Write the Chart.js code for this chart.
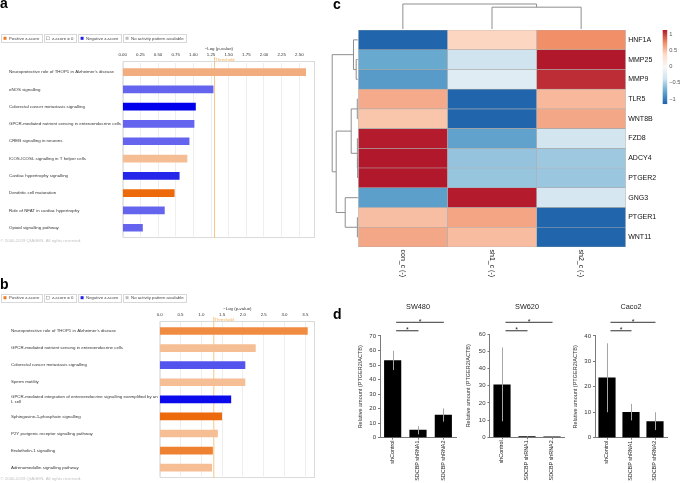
<!DOCTYPE html>
<html>
<head>
<meta charset="utf-8">
<script src="https://cdn.jsdelivr.net/npm/chart.js@4.4.1/dist/chart.umd.min.js"></script>
<style>
html,body{margin:0;padding:0;background:#fff;}
#wrap{position:relative;width:680px;height:483px;overflow:hidden;background:#fff;font-family:"Liberation Sans",Arial,sans-serif;}
canvas{position:absolute;}
.plab{position:absolute;font:bold 14px/14px "Liberation Sans",Arial,sans-serif;color:#000;}
</style>
</head>
<body>
<div id="wrap">
  <canvas id="cA" width="340" height="248" style="left:0;top:0;"></canvas>
  <canvas id="cB" width="340" height="233" style="left:0;top:250px;"></canvas>
  <canvas id="cC" width="350" height="290" style="left:330px;top:0;"></canvas>
  <canvas id="cD1" width="125" height="193" style="left:340px;top:290px;"></canvas>
  <canvas id="cD2" width="112" height="193" style="left:458px;top:290px;"></canvas>
  <canvas id="cD3" width="110" height="193" style="left:570px;top:290px;"></canvas>
  <div class="plab" style="left:0;top:-4.3px;">a</div>
  <div class="plab" style="left:0;top:276.5px;">b</div>
  <div class="plab" style="left:333px;top:-3.5px;">c</div>
  <div class="plab" style="left:333px;top:306.5px;">d</div>
</div>
<script>
// ================= DATA =================
// Panel a – IPA canonical pathways
const pathwaysA = [
  "Neuroprotective role of THOP1 in Alzheimer's disease",
  "eNOS signalling",
  "Colorectal cancer metastasis signalling",
  "GPCR-mediated nutrient sensing in enteroendocrine cells",
  "CREB signalling in neurons",
  "ICOS-ICOSL signalling in T helper cells",
  "Cardiac hypertrophy signalling",
  "Dendritic cell maturation",
  "Role of NFAT in cardiac hypertrophy",
  "Opioid signalling pathway"
];
const logPA = [2.59, 1.28, 1.03, 1.01, 0.94, 0.91, 0.80, 0.73, 0.59, 0.28];
const ticksA = [0, 0.25, 0.5, 0.75, 1, 1.25, 1.5, 1.75, 2, 2.25, 2.5];

// Panel b – IPA canonical pathways
const pathwaysB = [
  "Neuroprotective role of THOP1 in Alzheimer's disease",
  "GPCR-mediated nutrient sensing in enteroendocrine cells",
  "Colorectal cancer metastasis signalling",
  "Sperm motility",
  ["GPCR-mediated integration of enteroendocrine signalling exemplified by an", "L cell"],
  "Sphingosine-1-phosphate signalling",
  "P2Y purigenic receptor signalling pathway",
  "Endothelin-1 signalling",
  "Adrenomedullin signalling pathway"
];
const logPB = [3.55, 2.30, 2.05, 2.05, 1.71, 1.49, 1.39, 1.27, 1.25];
const ticksB = [0, 0.5, 1, 1.5, 2, 2.5, 3, 3.5];
const thresholdLogP = 1.3;

// Panel c – heatmap (row-scaled z-scores)
const genes = ["HNF1A","MMP25","MMP9","TLR5","WNT8B","FZD8","ADCY4","PTGER2","GNG3","PTGER1","WNT11"];
const conditions = ["con_c (-)", "sh1_c (-)", "sh2_c (-)"];
const zCon = [-1.13, -0.75, -0.83,  0.60,  0.48,  1.12,  1.15,  1.15, -0.81,  0.51,  0.62];
const zSh1 = [ 0.40, -0.38, -0.23, -1.14, -1.15, -0.79, -0.59, -0.58,  1.12,  0.63,  0.52];
const zSh2 = [ 0.73,  1.13,  1.06,  0.54,  0.62, -0.36, -0.56, -0.57, -0.33, -1.14, -1.14];
const colorbarTicks = [1, 0.5, 0, -0.5, -1];
// hierarchical clustering: [childA, childB, height] (leaves 0..n-1, merged nodes n, n+1, ...)
const rowLinkage = [[1,2,0.063],[0,11,0.168],[3,4,0.02],[6,7,0.008],[5,14,0.016],[13,15,0.258],[9,10,0.016],[8,17,0.492],[16,18,0.844],[12,19,1.0]];
const colLinkage = [[1,2,0.873],[0,3,1.0]];

// Panel d – qPCR
const qpcrGroups = ["shControl", "SDCBP shRNA1", "SDCBP shRNA2"];
const sw480Mean = [53.0, 5.2, 15.5];
const sw480Low  = [46.5, 2.2, 11.0];
const sw480High = [59.8, 7.9, 20.1];
const sw620Mean = [30.5, 0.4, 0.2];
const sw620Low  = [9.3, 0.2, 0.1];
const sw620High = [52.3, 0.6, 0.3];
const caco2Mean = [23.5, 10.0, 6.3];
const caco2Low  = [10.0, 6.8, 3.0];
const caco2High = [37.1, 13.3, 10.0];
const sigPairs = [[0,1],[0,2]];

// ================= STYLES =================
const FONT = '"Liberation Sans", Arial, Helvetica, sans-serif';
Chart.defaults.font.family = FONT;
Chart.defaults.color = '#333';
const barColorsA = ['#F2AD7F','#6464EE','#0000EC','#6464EE','#6464EE','#F5BD93','#2626EA','#EC6A0C','#6464EE','#6464EE'];
const barColorsB = ['#EF8C42','#F6BE95','#5353EE','#F6BE95','#0A0AEC','#EC690C','#F6BE95','#EF8133','#F6BE95'];
const rdbu = ['#2166AC','#67A9CF','#D1E5F0','#F7F7F7','#FDDBC7','#EF8A62','#B2182B'];
const HLIM = 1.13;
function hex2rgb(h){return [parseInt(h.slice(1,3),16),parseInt(h.slice(3,5),16),parseInt(h.slice(5,7),16)];}
function heatColor(v){
  const c = Math.max(-HLIM, Math.min(HLIM, v));
  const t = (c + HLIM) / (2*HLIM) * (rdbu.length - 1);
  const i = Math.min(Math.floor(t), rdbu.length - 2);
  const f = t - i;
  const a = hex2rgb(rdbu[i]), b = hex2rgb(rdbu[i+1]);
  return 'rgb(' + a.map((x,k)=>Math.round(x + (b[k]-x)*f)).join(',') + ')';
}

// ================= PANELS a / b =================
const ipaDeco = {
  id: 'ipaDeco',
  beforeDatasetsDraw(chart, args, o) {
    const {ctx, chartArea: ca, scales: {x}} = chart;
    const top = ca.top - o.extTop, bot = ca.bottom + o.extBot;
    ctx.save();
    ctx.strokeStyle = '#DADADA'; ctx.lineWidth = 1;
    ctx.strokeRect(ca.left + 0.5, top + 0.5, ca.right - ca.left - 1, bot - top - 1);
    const tx = x.getPixelForValue(o.threshold);
    ctx.strokeStyle = '#F8C68A';
    ctx.beginPath(); ctx.moveTo(tx, top - 4); ctx.lineTo(tx, bot); ctx.stroke();
    ctx.fillStyle = '#F4AE55';
    ctx.font = '4.4px ' + FONT;
    ctx.textBaseline = 'middle'; ctx.textAlign = 'left';
    ctx.fillText('Threshold', tx + 0.5, top - 1.7);
    ctx.restore();
  },
  afterDraw(chart, args, o) {
    const ctx = chart.ctx;
    ctx.save();
    ctx.font = '4.3px ' + FONT;
    ctx.textBaseline = 'middle'; ctx.textAlign = 'left';
    const items = [
      {t: 'Positive z-score', c: '#F07B1F'},
      {t: 'z-score = 0', c: '#FFFFFF', b: '#9A9A9A'},
      {t: 'Negative z-score', c: '#1E1EE6'},
      {t: 'No activity pattern available', c: '#BDBDBD'}
    ];
    let xx = 1;
    const y = o.legendY;
    items.forEach(it => {
      const w = ctx.measureText(it.t).width + 10.5;
      ctx.strokeStyle = '#D8D8D8'; ctx.lineWidth = 1;
      ctx.strokeRect(Math.round(xx) + 0.5, Math.round(y - 4) + 0.5, Math.round(w), 8);
      ctx.fillStyle = it.c; ctx.fillRect(xx + 2.5, y - 1.5, 3, 3);
      if (it.b) { ctx.strokeStyle = it.b; ctx.lineWidth = 0.5; ctx.strokeRect(xx + 2.5, y - 1.5, 3, 3); }
      ctx.fillStyle = '#444';
      ctx.fillText(it.t, xx + 8, y + 0.3);
      xx += w + 2.2;
    });
    ctx.fillStyle = '#C2C2C2';
    ctx.fillText('\u00A9 2000-2019 QIAGEN. All rights reserved.', 0.5, o.copyY);
    ctx.restore();
  }
};

function ipaChart(id, labels, values, colors, ticks, max, digits, g) {
  return new Chart(document.getElementById(id), {
    type: 'bar',
    data: {labels: labels, datasets: [{data: values, backgroundColor: colors, barThickness: 7, borderWidth: 0}]},
    options: {
      indexAxis: 'y', responsive: false, animation: false, maintainAspectRatio: false,
      layout: {padding: {left: g.padL, right: g.padR, top: g.padT, bottom: g.padB}},
      plugins: {
        legend: {display: false}, tooltip: {enabled: false},
        ipaDeco: {threshold: thresholdLogP, extTop: g.extTop, extBot: g.extBot, legendY: g.legendY, copyY: g.copyY}
      },
      scales: {
        x: {
          type: 'linear', position: 'top', min: 0, max: max,
          afterBuildTicks: s => { s.ticks = ticks.map(v => ({value: v})); },
          afterFit: s => { s.height = g.xH; },
          ticks: {font: {size: 4.4}, color: '#333', padding: g.tickPad, autoSkip: false, maxRotation: 0,
                  callback: v => Number(v).toFixed(digits)},
          grid: {color: '#EEEEEE', drawTicks: false, lineWidth: 1},
          border: {display: false},
          title: {display: true, text: '\u2212Log (p-value)', font: {size: 4.4}, color: '#333', padding: 0}
        },
        y: {
          type: 'category',
          afterFit: s => { s.width = g.yW; },
          ticks: {crossAlign: 'far', font: {size: 4.4}, color: '#333', autoSkip: false, padding: 0},
          grid: {display: false, drawTicks: false},
          border: {display: false}
        }
      }
    },
    plugins: [ipaDeco]
  });
}

ipaChart('cA', pathwaysA, logPA, barColorsA, ticksA, 2.722, 2,
  {padL: 9, padR: 25, padT: 45.66, padB: 11.6, xH: 17.74, yW: 113.7, tickPad: 5.8,
   extTop: 2.4, extBot: 1.6, legendY: 38.3, copyY: 241});
ipaChart('cB', pathwaysB, logPB, barColorsB, ticksB, 3.733, 1,
  {padL: 11, padR: 25, padT: 55.66, padB: 6.76, xH: 16.8, yW: 148.7, tickPad: 5.52,
   extTop: 1.46, extBot: 1.76, legendY: 47.7, copyY: 229.3});

// ================= PANEL c =================
function drawDendro(ctx, linkage, leafPos, base, scale, vertical) {
  const n = leafPos.length;
  const pos = leafPos.slice(), hgt = leafPos.map(() => 0);
  const c = h => base - h * scale;
  const line = (a1, b1, a2, b2) => {
    ctx.beginPath();
    if (vertical) { ctx.moveTo(a1, b1); ctx.lineTo(a2, b2); }
    else { ctx.moveTo(b1, a1); ctx.lineTo(b2, a2); }
    ctx.stroke();
  };
  linkage.forEach((m, k) => {
    const [a, b, h] = m;
    line(pos[a], c(hgt[a]), pos[a], c(h));
    line(pos[b], c(hgt[b]), pos[b], c(h));
    line(pos[a], c(h), pos[b], c(h));
    pos[n + k] = (pos[a] + pos[b]) / 2;
    hgt[n + k] = h;
  });
}

const heatDeco = {
  id: 'heatDeco',
  afterDraw(chart) {
    const {ctx, chartArea: ca, scales: {x, y}} = chart;
    ctx.save();
    ctx.strokeStyle = '#8E8E8E'; ctx.lineWidth = 1;
    drawDendro(ctx, rowLinkage, genes.map((g, i) => y.getPixelForValue(i)), ca.left - 0.5, 25.6, false);
    drawDendro(ctx, colLinkage, conditions.map((c, j) => x.getPixelForValue(j + 0.5)), ca.top - 1, 25, true);
    ctx.fillStyle = '#111';
    ctx.font = '7px ' + FONT;
    ctx.textAlign = 'left'; ctx.textBaseline = 'middle';
    conditions.forEach((c, j) => {
      ctx.save();
      ctx.translate(x.getPixelForValue(j + 0.5), ca.bottom + 2.5);
      ctx.rotate(Math.PI / 2);
      ctx.fillText(c, 0, 0);
      ctx.restore();
    });
    const cbX = ca.right + 37, cbW = 4.5, cbTop = ca.top, cbH = 73.3;
    for (let i = 0; i < cbH; i++) {
      const v = HLIM - (i + 0.5) / cbH * 2 * HLIM;
      ctx.fillStyle = heatColor(v);
      ctx.fillRect(cbX, cbTop + i, cbW, 1.05);
    }
    ctx.fillStyle = '#555';
    ctx.font = '5.7px ' + FONT;
    colorbarTicks.forEach(v => {
      const yy = cbTop + (HLIM - v) / (2 * HLIM) * cbH;
      const s = v < 0 ? '\u2212' + String(Math.abs(v)) : String(v);
      ctx.fillText(s, cbX + cbW + 2, yy);
    });
    ctx.restore();
  }
};

new Chart(document.getElementById('cC'), {
  type: 'bar',
  data: {
    labels: genes,
    datasets: [zCon, zSh1, zSh2].map((z, j) => ({
      label: conditions[j],
      data: genes.map(() => 1),
      backgroundColor: z.map(heatColor),
      borderColor: '#ABABAB', borderWidth: 0.6, borderSkipped: false,
      barPercentage: 1, categoryPercentage: 1
    }))
  },
  options: {
    indexAxis: 'y', responsive: false, animation: false,
    layout: {padding: {left: 28.3, right: 20.3, top: 30, bottom: 43}},
    plugins: {legend: {display: false}, tooltip: {enabled: false}},
    scales: {
      x: {type: 'linear', stacked: true, min: 0, max: 3, display: false},
      y: {
        type: 'category', stacked: true, position: 'right', offset: true,
        afterFit: s => { s.width = 34; },
        ticks: {font: {size: 7}, color: '#111', padding: 2.5, autoSkip: false},
        grid: {display: false, drawTicks: false},
        border: {display: false}
      }
    }
  },
  plugins: [heatDeco]
});

// ================= PANEL d =================
const qpcrDeco = {
  id: 'qpcrDeco',
  afterDatasetsDraw(chart, args, o) {
    const {ctx, scales: {x, y}} = chart;
    ctx.save();
    ctx.strokeStyle = '#A5A5A5'; ctx.lineWidth = 1;
    o.low.forEach((lo, i) => {
      const px = Math.round(x.getPixelForValue(i)) + 0.5;
      ctx.beginPath();
      ctx.moveTo(px, y.getPixelForValue(lo));
      ctx.lineTo(px, y.getPixelForValue(o.high[i]));
      ctx.stroke();
    });
    ctx.strokeStyle = '#5E5E5E'; ctx.lineWidth = 1.3;
    ctx.fillStyle = '#222';
    ctx.font = '7px ' + FONT;
    ctx.textAlign = 'center'; ctx.textBaseline = 'alphabetic';
    o.pairs.forEach((p, k) => {
      const x0 = x.getPixelForValue(p[0]) + 3.5, x1 = x.getPixelForValue(p[1]) + 0.5;
      const yy = o.bracketY[k];
      ctx.beginPath(); ctx.moveTo(x0, yy); ctx.lineTo(x1, yy); ctx.stroke();
      ctx.fillText('*', (x0 + x1) / 2, yy + 1.2);
    });
    ctx.restore();
  }
};

function qpcrChart(id, title, means, lows, highs, yMax, g) {
  return new Chart(document.getElementById(id), {
    type: 'bar',
    data: {labels: qpcrGroups, datasets: [{data: means, backgroundColor: '#000000', barThickness: 16.5, borderWidth: 0}]},
    options: {
      responsive: false, animation: false,
      layout: {padding: {left: g.padL, right: g.padR, top: 0, bottom: 0}},
      plugins: {
        legend: {display: false}, tooltip: {enabled: false},
        title: {display: true, text: title, fullSize: false, font: {size: 7.3, weight: 'normal'}, color: '#222',
                padding: {top: g.tP, bottom: g.tB}},
        qpcrDeco: {low: lows, high: highs, pairs: sigPairs, bracketY: [40.7, 32.4]}
      },
      scales: {
        x: {
          type: 'category',
          afterFit: s => { s.height = g.xH; },
          grid: {drawOnChartArea: false, offset: false, tickLength: 2, color: '#7A7A7A'},
          border: {color: '#7A7A7A'},
          ticks: {font: {size: 5.4}, color: '#222', minRotation: 90, maxRotation: 90, padding: 1, autoSkip: false}
        },
        y: {
          type: 'linear', min: 0, max: yMax,
          afterFit: s => { s.width = g.yW; },
          grid: {drawOnChartArea: false, tickLength: 2, color: '#7A7A7A'},
          border: {color: '#7A7A7A'},
          ticks: {stepSize: 10, font: {size: 6}, color: '#333', padding: 2},
          title: {display: true, text: 'Relative amount (PTGER2/ACTB)', font: {size: 5.5}, color: '#333', padding: 0}
        }
      }
    },
    plugins: [qpcrDeco]
  });
}

qpcrChart('cD1', 'SW480', sw480Mean, sw480Low, sw480High, 70,
  {padL: 17.4, yW: 22.6, padR: 9, tP: 12.3, tB: 24.9, xH: 45.4});
qpcrChart('cD2', 'SW620', sw620Mean, sw620Low, sw620High, 60,
  {padL: 7, yW: 24.5, padR: 5.5, tP: 12.6, tB: 22.9, xH: 45.7});
qpcrChart('cD3', 'Caco2', caco2Mean, caco2Low, caco2High, 40,
  {padL: 1.7, yW: 23.3, padR: 13, tP: 12.6, tB: 24.6, xH: 45.3});
</script>
</body>
</html>
